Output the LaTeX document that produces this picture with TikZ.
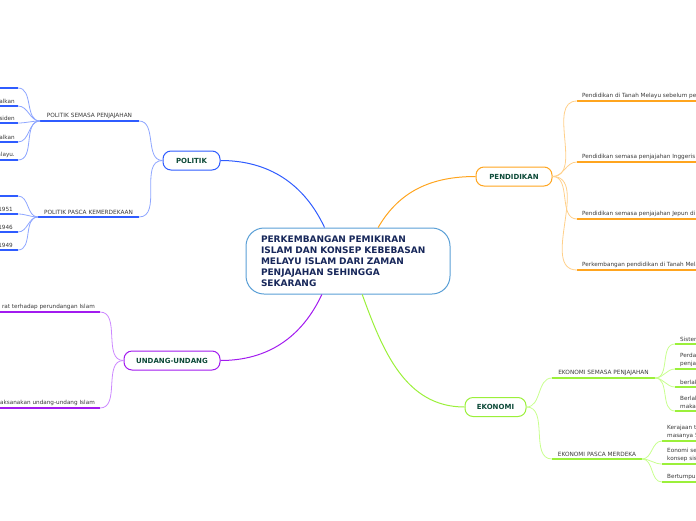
\documentclass[tikz,border=0pt]{standalone}
\usepackage{fontspec}
\setmainfont{DejaVu Sans}
\usepackage{xcolor}
\usepackage{tikz}
\usetikzlibrary{positioning}

\definecolor{polblue}{HTML}{2F5CFF}
\definecolor{pollight}{HTML}{8EA6FF}
\definecolor{eduorange}{HTML}{FFA51F}
\definecolor{edulight}{HTML}{FFD08A}
\definecolor{lawpurple}{HTML}{A21BEF}
\definecolor{lawlight}{HTML}{CC88FF}
\definecolor{ecogreen}{HTML}{9BF03A}
\definecolor{ecolight}{HTML}{C8FF8E}
\definecolor{rootblue}{HTML}{5A9FD6}
\definecolor{roottext}{HTML}{17275A}
\definecolor{topictext}{HTML}{0D4A38}
\definecolor{leaftext}{HTML}{3A3A3A}

\begin{document}
\begin{tikzpicture}[
  x=1pt, y=1pt,
  root/.style={draw=rootblue, line width=1pt, rounded corners=18pt, fill=white, text=roottext,
    font=\fontsize{9}{11}\selectfont\bfseries, text width=174pt, align=left,
    inner xsep=15pt, inner ysep=5pt, minimum height=66pt},
  topic/.style={draw, line width=1pt, rounded corners=8pt, fill=white, text=topictext,
    font=\fontsize{7}{8}\selectfont\bfseries, minimum height=19pt, inner xsep=0pt},
  subtopic/.style={above, inner sep=1.5pt, text=leaftext, font=\fontsize{5.8}{6.5}\selectfont},
  leaf/.style={inner xsep=1pt, inner ysep=2.2pt, text=leaftext, font=\fontsize{5.7}{7.6}\selectfont, align=left},
  main/.style={line width=1pt},
  twig/.style={line width=0.8pt},
  bar/.style={line width=2pt}
]
\useasboundingbox (0,0) rectangle (696,-520);
\clip (0,0) rectangle (696,-520);

% central idea and main branches
\node[root] (root) at (348,-261) {PERKEMBANGAN PEMIKIRAN\\ISLAM DAN KONSEP KEBEBASAN\\MELAYU ISLAM DARI ZAMAN\\PENJAJAHAN SEHINGGA\\SEKARANG};
\node[topic, draw=polblue, minimum width=57pt] (politik) at (191.5,-160.5) {POLITIK};
\node[topic, draw=eduorange, minimum width=76pt] (pendidikan) at (514,-176.5) {PENDIDIKAN};
\node[topic, draw=lawpurple, minimum width=96pt] (undang) at (172,-360.5) {UNDANG-UNDANG};
\node[topic, draw=ecogreen, minimum width=61pt] (ekonomi) at (495.5,-407) {EKONOMI};

\draw[main, polblue] (root.125) to[out=115,in=0] (politik.east);
\draw[main, eduorange] (root.48) to[out=60,in=180] (pendidikan.west);
\draw[main, lawpurple] (root.232) to[out=245,in=0] (undang.east);
\draw[main, ecogreen] (root.-67) to[out=-70,in=180] (ekonomi.west);

% politik
\coordinate (pol1-l) at (40,-121); \coordinate (pol1-r) at (139,-121);
\coordinate (pol2-l) at (38,-217); \coordinate (pol2-r) at (139,-217);
\draw[bar, polblue] (pol1-l) -- node[subtopic] (pol1) {POLITIK SEMASA PENJAJAHAN} (pol1-r);
\draw[bar, polblue] (pol2-l) -- node[subtopic] (pol2) {POLITIK PASCA KEMERDEKAAN} (pol2-r);
\draw[twig, pollight] (politik.west) to[out=180,in=0] (pol1-r);
\draw[twig, pollight] (politik.west) to[out=180,in=0] (pol2-r);

\coordinate (pa) at (18,-88); \coordinate (pb) at (18,-106); \coordinate (pc) at (18,-123);
\coordinate (pd) at (18,-142); \coordinate (pe) at (18,-160);
\foreach \c in {pa,pb,pc,pd,pe} {
  \draw[bar, polblue] (\c) -- ++(-24,0);
  \draw[twig, pollight] (pol1-l) to[out=180,in=0] (\c);
}
\node[leaf, anchor=south east] (pb-t) at (16,-106) {alkan};
\node[leaf, anchor=south east] (pc-t) at (16,-123) {siden};
\node[leaf, anchor=south east] (pd-t) at (16,-142) {alkan};
\node[leaf, anchor=south east] (pe-t) at (16,-160) {alayu.};

\coordinate (qa) at (18,-196); \coordinate (qb) at (18,-214);
\coordinate (qc) at (18,-232); \coordinate (qd) at (18,-250);
\foreach \c in {qa,qb,qc,qd} {
  \draw[bar, polblue] (\c) -- ++(-24,0);
  \draw[twig, pollight] (pol2-l) to[out=180,in=0] (\c);
}
\node[leaf, anchor=south east] (qb-t) at (14,-214) {1951};
\node[leaf, anchor=south east] (qc-t) at (14,-232) {1946};
\node[leaf, anchor=south east] (qd-t) at (14,-250) {1949};

% pendidikan
\coordinate (da) at (577,-101); \coordinate (db) at (577,-162);
\coordinate (dc) at (577,-219); \coordinate (dd) at (577,-270);
\foreach \c in {da,db,dc,dd} {
  \draw[bar, eduorange] (\c) -- ++(130,0);
  \draw[twig, edulight] (pendidikan.east) to[out=0,in=180] (\c);
}
\node[leaf, anchor=south west] (da-t) at (581,-101) {Pendidikan di Tanah Melayu sebelum penjajahan};
\node[leaf, anchor=south west] (db-t) at (581,-162) {Pendidikan semasa penjajahan Inggeris di};
\node[leaf, anchor=south west] (dc-t) at (581,-219) {Pendidikan semasa penjajahan Jepun di Tanah};
\node[leaf, anchor=south west] (dd-t) at (581,-270) {Perkembangan pendidikan di Tanah Melayu};

% undang-undang
\coordinate (ua) at (100,-312); \coordinate (ub) at (100,-408);
\draw[bar, lawpurple] (ua) -- ++(-110,0);
\draw[bar, lawpurple] (ub) -- ++(-110,0);
\draw[twig, lawlight] (undang.west) to[out=180,in=0] (ua);
\draw[twig, lawlight] (undang.west) to[out=180,in=0] (ub);
\node[leaf, anchor=south east] (ua-t) at (96,-312) {rat terhadap perundangan Islam};
\node[leaf, anchor=south east] (ub-t) at (96,-408) {laksanakan undang-undang Islam};

% ekonomi
\coordinate (eco1-l) at (552,-378); \coordinate (eco1-r) at (655,-378);
\coordinate (eco2-l) at (552,-459); \coordinate (eco2-r) at (642,-459);
\draw[bar, ecogreen] (eco1-l) -- node[subtopic] (eco1) {EKONOMI SEMASA PENJAJAHAN} (eco1-r);
\draw[bar, ecogreen] (eco2-l) -- node[subtopic] (eco2) {EKONOMI PASCA MERDEKA} (eco2-r);
\draw[twig, ecolight] (ekonomi.east) to[out=0,in=180] (eco1-l);
\draw[twig, ecolight] (ekonomi.east) to[out=0,in=180] (eco2-l);

\coordinate (ea) at (675,-344); \coordinate (eb) at (675,-369);
\coordinate (ec) at (675,-387); \coordinate (ed) at (675,-411);
\foreach \c in {ea,eb,ec,ed} {
  \draw[bar, ecogreen] (\c) -- ++(30,0);
  \draw[twig, ecolight] (eco1-r) to[out=0,in=180] (\c);
}
\node[leaf, anchor=south west] (ea-t) at (679,-344) {Sistem};
\node[leaf, anchor=south west] (eb-t) at (679,-369) {Perdag\\penjaj};
\node[leaf, anchor=south west] (ec-t) at (679,-387) {berlak};
\node[leaf, anchor=south west] (ed-t) at (679,-411) {Berlak\\makar};

\coordinate (fa) at (662,-441); \coordinate (fb) at (662,-464); \coordinate (fc) at (662,-482);
\foreach \c in {fa,fb,fc} {
  \draw[bar, ecogreen] (\c) -- ++(40,0);
  \draw[twig, ecolight] (eco2-r) to[out=0,in=180] (\c);
}
\node[leaf, anchor=south west] (fa-t) at (666,-441) {Kerajaan te\\masanya 5};
\node[leaf, anchor=south west] (fb-t) at (666,-464) {Eonomi se\\konsep sis};
\node[leaf, anchor=south west] (fc-t) at (666,-482) {Bertumpu};
\end{tikzpicture}
\end{document}
